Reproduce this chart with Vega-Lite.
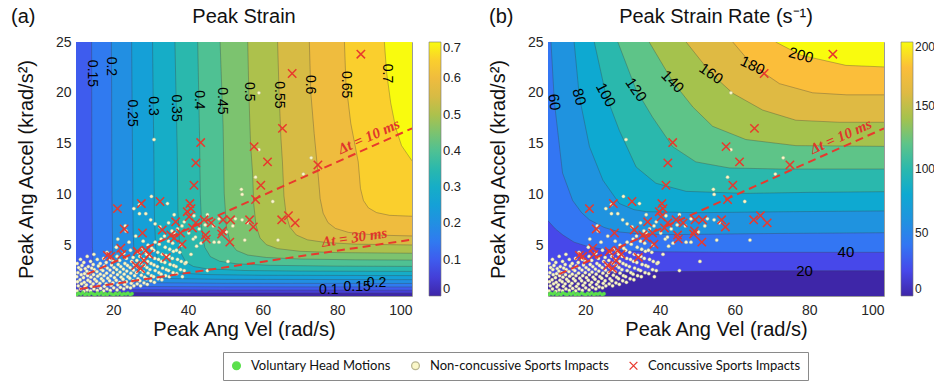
{
  "$schema": "https://vega.github.io/schema/vega-lite/v6.json",
  "padding": {"left": 10, "top": 6, "right": 0, "bottom": 0},
  "background": "white",
  "datasets": {
    "sa": [
      {"lev":0,"x":0,"y":-1},{"lev":0,"x":110,"y":-1},
      {"lev":0.05,"x":6.55,"y":30},{"lev":0.05,"x":6.6,"y":10.27},{"lev":0.05,"x":7,"y":2.27},{"lev":0.05,"x":8,"y":0.94},{"lev":0.05,"x":10,"y":0.56},{"lev":0.05,"x":13,"y":0.42},{"lev":0.05,"x":20,"y":0.34},{"lev":0.05,"x":40,"y":0.3},{"lev":0.05,"x":110,"y":0.28},
      {"lev":0.1,"x":8.82,"y":30},{"lev":0.1,"x":8.85,"y":24.6},{"lev":0.1,"x":9,"y":6.56},{"lev":0.1,"x":10,"y":1.56},{"lev":0.1,"x":11,"y":1.11},{"lev":0.1,"x":13,"y":0.85},{"lev":0.1,"x":16,"y":0.73},{"lev":0.1,"x":25,"y":0.63},{"lev":0.1,"x":50,"y":0.59},{"lev":0.1,"x":110,"y":0.57},
      {"lev":0.15,"x":14.15,"y":30},{"lev":0.15,"x":14.25,"y":12.9},{"lev":0.15,"x":14.3,"y":8.88},{"lev":0.15,"x":14.4,"y":4.88},{"lev":0.15,"x":14.6,"y":2.88},{"lev":0.15,"x":15,"y":1.88},{"lev":0.15,"x":16,"y":1.32},{"lev":0.15,"x":18,"y":1.09},{"lev":0.15,"x":22,"y":0.98},{"lev":0.15,"x":30,"y":0.93},{"lev":0.15,"x":50,"y":0.9},{"lev":0.15,"x":110,"y":0.89},
      {"lev":0.2,"x":19.4,"y":30},{"lev":0.2,"x":19.55,"y":20},{"lev":0.2,"x":19.6,"y":11.2},{"lev":0.2,"x":19.8,"y":4.55},{"lev":0.2,"x":20,"y":3.22},{"lev":0.2,"x":20.5,"y":2.22},{"lev":0.2,"x":21.5,"y":1.72},{"lev":0.2,"x":23,"y":1.51},{"lev":0.2,"x":26,"y":1.37},{"lev":0.2,"x":32,"y":1.3},{"lev":0.2,"x":50,"y":1.25},{"lev":0.2,"x":110,"y":1.23},
      {"lev":0.25,"x":24.8,"y":30},{"lev":0.25,"x":25.1,"y":15.6},{"lev":0.25,"x":25.3,"y":6.25},{"lev":0.25,"x":25.6,"y":3.91},{"lev":0.25,"x":26,"y":2.98},{"lev":0.25,"x":27,"y":2.28},{"lev":0.25,"x":28.5,"y":1.98},{"lev":0.25,"x":31,"y":1.81},{"lev":0.25,"x":36,"y":1.71},{"lev":0.25,"x":50,"y":1.64},{"lev":0.25,"x":110,"y":1.6},
      {"lev":0.3,"x":30.3,"y":30},{"lev":0.3,"x":30.5,"y":25},{"lev":0.3,"x":30.85,"y":14},{"lev":0.3,"x":31,"y":7.98},{"lev":0.3,"x":31.3,"y":4.98},{"lev":0.3,"x":31.7,"y":3.78},{"lev":0.3,"x":32.5,"y":2.98},{"lev":0.3,"x":34,"y":2.53},{"lev":0.3,"x":37,"y":2.27},{"lev":0.3,"x":45,"y":2.11},{"lev":0.3,"x":60,"y":2.04},{"lev":0.3,"x":110,"y":2.0},
      {"lev":0.35,"x":36.3,"y":30},{"lev":0.35,"x":36.5,"y":25},{"lev":0.35,"x":37.1,"y":14.4},{"lev":0.35,"x":37.3,"y":8.38},{"lev":0.35,"x":37.7,"y":5.38},{"lev":0.35,"x":38.3,"y":4.09},{"lev":0.35,"x":39.5,"y":3.3},{"lev":0.35,"x":41.5,"y":2.9},{"lev":0.35,"x":45,"y":2.68},{"lev":0.35,"x":55,"y":2.51},{"lev":0.35,"x":70,"y":2.45},{"lev":0.35,"x":110,"y":2.41},
      {"lev":0.4,"x":42.4,"y":30},{"lev":0.4,"x":42.6,"y":25},{"lev":0.4,"x":43.1,"y":15.65},{"lev":0.4,"x":43.3,"y":9.96},{"lev":0.4,"x":43.7,"y":6.61},{"lev":0.4,"x":44.5,"y":4.79},{"lev":0.4,"x":46,"y":3.87},{"lev":0.4,"x":48.5,"y":3.42},{"lev":0.4,"x":53,"y":3.17},{"lev":0.4,"x":62,"y":3.02},{"lev":0.4,"x":80,"y":2.94},{"lev":0.4,"x":110,"y":2.9},
      {"lev":0.45,"x":48.3,"y":30},{"lev":0.45,"x":48.6,"y":25},{"lev":0.45,"x":49.4,"y":16.8},{"lev":0.45,"x":49.7,"y":10.1},{"lev":0.45,"x":50.3,"y":6.78},{"lev":0.45,"x":51.3,"y":5.27},{"lev":0.45,"x":53,"y":4.48},{"lev":0.45,"x":56,"y":4.03},{"lev":0.45,"x":61,"y":3.79},{"lev":0.45,"x":70,"y":3.64},{"lev":0.45,"x":85,"y":3.56},{"lev":0.45,"x":110,"y":3.52},
      {"lev":0.5,"x":55.6,"y":30},{"lev":0.5,"x":56,"y":25},{"lev":0.5,"x":56.3,"y":20},{"lev":0.5,"x":56.75,"y":15},{"lev":0.5,"x":57.3,"y":12.1},{"lev":0.5,"x":57.6,"y":9.1},{"lev":0.5,"x":58.2,"y":6.96},{"lev":0.5,"x":59.3,"y":5.7},{"lev":0.5,"x":61,"y":5.05},{"lev":0.5,"x":64,"y":4.66},{"lev":0.5,"x":70,"y":4.4},{"lev":0.5,"x":80,"y":4.27},{"lev":0.5,"x":110,"y":4.18},
      {"lev":0.55,"x":63.4,"y":30},{"lev":0.55,"x":64,"y":25},{"lev":0.55,"x":64.4,"y":20},{"lev":0.55,"x":64.9,"y":15.5},{"lev":0.55,"x":65.3,"y":13.2},{"lev":0.55,"x":65.7,"y":9.85},{"lev":0.55,"x":66.3,"y":7.98},{"lev":0.55,"x":67.3,"y":6.77},{"lev":0.55,"x":69,"y":6.01},{"lev":0.55,"x":72,"y":5.53},{"lev":0.55,"x":77,"y":5.26},{"lev":0.55,"x":85,"y":5.1},{"lev":0.55,"x":110,"y":4.97},
      {"lev":0.6,"x":71.6,"y":30},{"lev":0.6,"x":72.5,"y":25},{"lev":0.6,"x":72.9,"y":20},{"lev":0.6,"x":73.8,"y":16},{"lev":0.6,"x":74.9,"y":11.76},{"lev":0.6,"x":75.4,"y":9.58},{"lev":0.6,"x":76.2,"y":8.15},{"lev":0.6,"x":77.5,"y":7.22},{"lev":0.6,"x":79.5,"y":6.65},{"lev":0.6,"x":83,"y":6.26},{"lev":0.6,"x":90,"y":6.0},{"lev":0.6,"x":110,"y":5.82},
      {"lev":0.65,"x":80.9,"y":30},{"lev":0.65,"x":81.9,"y":25},{"lev":0.65,"x":82.3,"y":21},{"lev":0.65,"x":83.6,"y":17},{"lev":0.65,"x":85.6,"y":13.2},{"lev":0.65,"x":86.2,"y":10.58},{"lev":0.65,"x":87,"y":9.4},{"lev":0.65,"x":88.3,"y":8.68},{"lev":0.65,"x":90.5,"y":8.21},{"lev":0.65,"x":94,"y":7.94},{"lev":0.65,"x":110,"y":7.7},
      {"lev":0.7,"x":91.5,"y":30},{"lev":0.7,"x":92.6,"y":25},{"lev":0.7,"x":93.2,"y":22},{"lev":0.7,"x":94.3,"y":19},{"lev":0.7,"x":95.6,"y":16.6},{"lev":0.7,"x":97.2,"y":14.8},{"lev":0.7,"x":100,"y":13.3},{"lev":0.7,"x":110,"y":12.0}
    ],
    "sb": [
      {"lev":0,"x":0,"y":-1},{"lev":0,"x":110,"y":-1},
      {"lev":20,"x":5,"y":1.85},{"lev":20,"x":10,"y":1.95},{"lev":20,"x":15,"y":2.12},{"lev":20,"x":25,"y":2.3},{"lev":20,"x":45,"y":2.42},{"lev":20,"x":70,"y":2.48},{"lev":20,"x":110,"y":2.5},
      {"lev":40,"x":8,"y":8.3},{"lev":40,"x":10,"y":7.4},{"lev":40,"x":12,"y":6.6},{"lev":40,"x":14,"y":6.0},{"lev":40,"x":17,"y":5.3},{"lev":40,"x":20,"y":4.95},{"lev":40,"x":24,"y":4.65},{"lev":40,"x":30,"y":4.45},{"lev":40,"x":40,"y":4.35},{"lev":40,"x":60,"y":4.3},{"lev":40,"x":110,"y":4.3},
      {"lev":60,"x":10.2,"y":30},{"lev":60,"x":10.8,"y":25},{"lev":60,"x":11.7,"y":19.1},{"lev":60,"x":13.9,"y":12.1},{"lev":60,"x":16.6,"y":9.4},{"lev":60,"x":19,"y":8.2},{"lev":60,"x":21.1,"y":7.5},{"lev":60,"x":25,"y":6.75},{"lev":60,"x":29.1,"y":6.3},{"lev":60,"x":35,"y":6.1},{"lev":60,"x":45,"y":6.05},{"lev":60,"x":70,"y":6.15},{"lev":60,"x":110,"y":6.25},
      {"lev":80,"x":16.3,"y":30},{"lev":80,"x":17,"y":25},{"lev":80,"x":18.4,"y":19.6},{"lev":80,"x":21.1,"y":14.7},{"lev":80,"x":24.7,"y":11.4},{"lev":80,"x":29.1,"y":9.1},{"lev":80,"x":33,"y":8.5},{"lev":80,"x":36.3,"y":8.3},{"lev":80,"x":50,"y":8.2},{"lev":80,"x":75,"y":8.3},{"lev":80,"x":110,"y":8.4},
      {"lev":100,"x":21.6,"y":30},{"lev":100,"x":22.4,"y":25},{"lev":100,"x":25.5,"y":19.8},{"lev":100,"x":29.1,"y":16.3},{"lev":100,"x":33.6,"y":12.7},{"lev":100,"x":38.9,"y":11.1},{"lev":100,"x":47,"y":10.3},{"lev":100,"x":63,"y":10.1},{"lev":100,"x":80,"y":10.2},{"lev":100,"x":110,"y":10.3},
      {"lev":120,"x":27.6,"y":30},{"lev":120,"x":28.7,"y":25},{"lev":120,"x":33.6,"y":20.3},{"lev":120,"x":38,"y":17.6},{"lev":120,"x":43.4,"y":14.7},{"lev":120,"x":49.6,"y":13.2},{"lev":120,"x":58.6,"y":12.6},{"lev":120,"x":72,"y":12.5},{"lev":120,"x":110,"y":12.5},
      {"lev":140,"x":35.8,"y":30},{"lev":140,"x":37.1,"y":25},{"lev":140,"x":43.4,"y":21.1},{"lev":140,"x":48.8,"y":18.6},{"lev":140,"x":54.1,"y":16.7},{"lev":140,"x":63,"y":15.4},{"lev":140,"x":76.4,"y":14.8},{"lev":140,"x":110,"y":14.7},
      {"lev":160,"x":45.5,"y":30},{"lev":160,"x":47,"y":25},{"lev":160,"x":53.7,"y":21.9},{"lev":160,"x":59.5,"y":19.95},{"lev":160,"x":67.5,"y":18.3},{"lev":160,"x":76.4,"y":17.3},{"lev":160,"x":88,"y":17.1},{"lev":160,"x":110,"y":17.1},
      {"lev":180,"x":57.5,"y":30},{"lev":180,"x":59.5,"y":25},{"lev":180,"x":64.8,"y":22.7},{"lev":180,"x":72,"y":20.9},{"lev":180,"x":80.9,"y":20.0},{"lev":180,"x":90,"y":19.8},{"lev":180,"x":110,"y":19.8},
      {"lev":200,"x":68,"y":30},{"lev":200,"x":71,"y":25},{"lev":200,"x":77.8,"y":23.7},{"lev":200,"x":89.8,"y":22.7},{"lev":200,"x":110,"y":22.4}
    ],
    "la": [
      {"lev":0.15,"x":14.2,"y":21.9},{"lev":0.2,"x":19.5,"y":22.6},{"lev":0.25,"x":25.05,"y":18.0},{"lev":0.3,"x":30.7,"y":18.7},{"lev":0.35,"x":36.87,"y":18.5},{"lev":0.4,"x":42.9,"y":19.3},{"lev":0.45,"x":49.17,"y":19.2},{"lev":0.5,"x":56.3,"y":20.1},{"lev":0.55,"x":64.4,"y":19.8},{"lev":0.6,"x":72.8,"y":20.8},{"lev":0.65,"x":82.35,"y":20.8},{"lev":0.7,"x":93.2,"y":21.9},
      {"lev":0.1,"x":77.7,"y":0.58},{"lev":0.15,"x":85.3,"y":0.9},{"lev":0.2,"x":90.5,"y":1.24}
    ],
    "lb": [
      {"lev":20,"x":78.7,"y":2.47},{"lev":40,"x":89.8,"y":4.3},{"lev":60,"x":11.7,"y":19.1},{"lev":80,"x":18.4,"y":19.6},{"lev":100,"x":25.5,"y":19.8},{"lev":120,"x":33.6,"y":20.3},{"lev":140,"x":43.4,"y":21.1},{"lev":160,"x":53.7,"y":21.9},{"lev":180,"x":64.8,"y":22.7},{"lev":200,"x":77.8,"y":23.7}
    ],
    "dtl": [
      {"dt":10,"x":13,"y":2.15},{"dt":10,"x":100,"y":16.5},
      {"dt":30,"x":11,"y":0.7},{"dt":30,"x":100,"y":5.55}
    ],
    "dtt": [
      {"dt":10,"t":"Δt = 10 ms","x":89.3,"y":15.0},
      {"dt":30,"t":"Δt = 30 ms","x":84.9,"y":5.0}
    ],
    "heads": [
      {"p":"a","t":"(a)","x":-7.4,"y":27.5,"h":"Peak Strain","hx":55},
      {"p":"b","t":"(b)","x":-5.8,"y":27.5,"h":"Peak Strain Rate (s⁻¹)","hx":55}
    ],
    "pts": [
      {"g":"N","x":10.3,"y":0.5},{"g":"N","x":10.6,"y":1.0},{"g":"N","x":10.4,"y":1.4},{"g":"N","x":10.2,"y":1.9},{"g":"N","x":10.5,"y":2.3},{"g":"N","x":10.7,"y":2.8},{"g":"N","x":10.3,"y":3.2},
      {"g":"N","x":11.2,"y":0.7},{"g":"N","x":11.5,"y":1.2},{"g":"N","x":11.1,"y":1.6},{"g":"N","x":11.4,"y":2.1},{"g":"N","x":11.3,"y":2.6},{"g":"N","x":11.6,"y":3.0},{"g":"N","x":11.2,"y":3.6},
      {"g":"N","x":12.1,"y":0.45},{"g":"N","x":12.4,"y":0.9},{"g":"N","x":12.2,"y":1.35},{"g":"N","x":12.0,"y":1.8},{"g":"N","x":12.3,"y":2.2},{"g":"N","x":12.5,"y":2.7},{"g":"N","x":12.1,"y":3.3},
      {"g":"N","x":13.0,"y":0.6},{"g":"N","x":12.8,"y":1.1},{"g":"N","x":13.2,"y":1.55},{"g":"N","x":13.1,"y":2.0},{"g":"N","x":12.9,"y":2.45},{"g":"N","x":13.3,"y":2.9},{"g":"N","x":13.0,"y":3.9},
      {"g":"N","x":13.9,"y":0.5},{"g":"N","x":14.1,"y":0.95},{"g":"N","x":13.8,"y":1.4},{"g":"N","x":14.0,"y":1.85},{"g":"N","x":13.7,"y":2.3},{"g":"N","x":14.2,"y":2.75},{"g":"N","x":13.9,"y":3.4},
      {"g":"N","x":14.8,"y":0.7},{"g":"N","x":14.6,"y":1.2},{"g":"N","x":15.0,"y":1.65},{"g":"N","x":14.7,"y":2.1},{"g":"N","x":14.9,"y":2.6},{"g":"N","x":14.6,"y":3.1},{"g":"N","x":14.8,"y":4.1},
      {"g":"N","x":15.7,"y":0.55},{"g":"N","x":15.9,"y":1.0},{"g":"N","x":15.5,"y":1.45},{"g":"N","x":15.8,"y":1.95},{"g":"N","x":15.6,"y":2.4},{"g":"N","x":16.0,"y":2.95},{"g":"N","x":15.7,"y":3.6},
      {"g":"N","x":16.6,"y":0.75},{"g":"N","x":16.4,"y":1.25},{"g":"N","x":16.8,"y":1.7},{"g":"N","x":16.5,"y":2.15},{"g":"N","x":16.7,"y":2.65},{"g":"N","x":16.5,"y":3.2},
      {"g":"N","x":17.4,"y":0.5},{"g":"N","x":17.6,"y":0.95},{"g":"N","x":17.3,"y":1.5},{"g":"N","x":17.5,"y":2.0},{"g":"N","x":17.2,"y":2.5},{"g":"N","x":17.6,"y":2.95},{"g":"N","x":17.4,"y":3.7},
      {"g":"N","x":18.3,"y":0.7},{"g":"N","x":18.1,"y":1.2},{"g":"N","x":18.5,"y":1.75},{"g":"N","x":18.2,"y":2.25},{"g":"N","x":18.4,"y":2.75},{"g":"N","x":18.1,"y":3.3},{"g":"N","x":18.3,"y":4.3},
      {"g":"N","x":19.2,"y":0.55},{"g":"N","x":19.4,"y":1.05},{"g":"N","x":19.0,"y":1.5},{"g":"N","x":19.3,"y":2.0},{"g":"N","x":19.1,"y":2.55},{"g":"N","x":19.5,"y":3.05},{"g":"N","x":19.2,"y":3.6},
      {"g":"N","x":20.1,"y":0.8},{"g":"N","x":19.9,"y":1.3},{"g":"N","x":20.3,"y":1.8},{"g":"N","x":20.0,"y":2.3},{"g":"N","x":20.2,"y":2.8},{"g":"N","x":20.0,"y":3.4},
      {"g":"N","x":21.0,"y":0.6},{"g":"N","x":21.2,"y":1.1},{"g":"N","x":20.8,"y":1.55},{"g":"N","x":21.1,"y":2.1},{"g":"N","x":20.9,"y":2.6},{"g":"N","x":21.3,"y":3.1},{"g":"N","x":21.0,"y":3.9},{"g":"N","x":20.8,"y":4.8},
      {"g":"N","x":21.9,"y":0.85},{"g":"N","x":21.7,"y":1.35},{"g":"N","x":22.1,"y":1.85},{"g":"N","x":21.8,"y":2.35},{"g":"N","x":22.0,"y":2.9},{"g":"N","x":21.7,"y":3.5},
      {"g":"N","x":22.8,"y":0.7},{"g":"N","x":23.0,"y":1.15},{"g":"N","x":22.6,"y":1.65},{"g":"N","x":22.9,"y":2.15},{"g":"N","x":22.7,"y":2.65},{"g":"N","x":23.1,"y":3.2},{"g":"N","x":22.8,"y":4.2},
      {"g":"N","x":23.7,"y":0.9},{"g":"N","x":23.5,"y":1.4},{"g":"N","x":23.9,"y":1.9},{"g":"N","x":23.6,"y":2.45},{"g":"N","x":23.8,"y":3.0},{"g":"N","x":23.5,"y":3.7},
      {"g":"N","x":24.6,"y":0.8},{"g":"N","x":24.8,"y":1.25},{"g":"N","x":24.4,"y":1.75},{"g":"N","x":24.7,"y":2.25},{"g":"N","x":24.5,"y":2.8},{"g":"N","x":24.9,"y":3.4},{"g":"N","x":24.6,"y":4.5},
      {"g":"N","x":25.5,"y":1.0},{"g":"N","x":25.3,"y":1.5},{"g":"N","x":25.7,"y":2.0},{"g":"N","x":25.4,"y":2.55},{"g":"N","x":25.6,"y":3.1},{"g":"N","x":25.3,"y":3.8},
      {"g":"N","x":26.4,"y":1.2},{"g":"N","x":26.6,"y":1.7},{"g":"N","x":26.2,"y":2.3},{"g":"N","x":26.5,"y":2.85},{"g":"N","x":26.3,"y":3.5},{"g":"N","x":26.7,"y":4.3},
      {"g":"N","x":27.3,"y":1.0},{"g":"N","x":27.1,"y":1.5},{"g":"N","x":27.5,"y":2.05},{"g":"N","x":27.2,"y":2.6},{"g":"N","x":27.4,"y":3.2},{"g":"N","x":27.1,"y":3.9},{"g":"N","x":27.5,"y":4.6},
      {"g":"N","x":28.2,"y":1.3},{"g":"N","x":28.4,"y":1.85},{"g":"N","x":28.0,"y":2.4},{"g":"N","x":28.3,"y":3.0},{"g":"N","x":28.1,"y":3.6},{"g":"N","x":28.5,"y":4.4},
      {"g":"N","x":29.1,"y":1.15},{"g":"N","x":28.9,"y":1.7},{"g":"N","x":29.3,"y":2.25},{"g":"N","x":29.0,"y":2.8},{"g":"N","x":29.2,"y":3.4},{"g":"N","x":28.9,"y":4.1},{"g":"N","x":29.3,"y":5.0},
      {"g":"N","x":30.0,"y":1.5},{"g":"N","x":30.2,"y":2.0},{"g":"N","x":29.8,"y":2.6},{"g":"N","x":30.1,"y":3.2},{"g":"N","x":29.9,"y":3.9},{"g":"N","x":30.3,"y":4.7},
      {"g":"N","x":31.0,"y":1.35},{"g":"N","x":30.8,"y":1.9},{"g":"N","x":31.2,"y":2.5},{"g":"N","x":30.9,"y":3.05},{"g":"N","x":31.1,"y":3.7},{"g":"N","x":30.8,"y":4.5},{"g":"N","x":31.2,"y":5.3},
      {"g":"N","x":32.0,"y":1.7},{"g":"N","x":32.2,"y":2.3},{"g":"N","x":31.8,"y":2.9},{"g":"N","x":32.1,"y":3.6},{"g":"N","x":31.9,"y":4.3},{"g":"N","x":32.3,"y":5.1},
      {"g":"N","x":33.0,"y":1.6},{"g":"N","x":32.8,"y":2.15},{"g":"N","x":33.2,"y":2.75},{"g":"N","x":32.9,"y":3.4},{"g":"N","x":33.1,"y":4.1},{"g":"N","x":32.8,"y":5.6},
      {"g":"N","x":34.0,"y":2.0},{"g":"N","x":34.2,"y":2.6},{"g":"N","x":33.8,"y":3.3},{"g":"N","x":34.1,"y":4.0},{"g":"N","x":33.9,"y":4.8},
      {"g":"N","x":35.0,"y":1.9},{"g":"N","x":34.8,"y":2.5},{"g":"N","x":35.2,"y":3.1},{"g":"N","x":34.9,"y":3.9},{"g":"N","x":35.1,"y":4.6},{"g":"N","x":34.8,"y":5.4},
      {"g":"N","x":36.0,"y":2.3},{"g":"N","x":36.2,"y":3.0},{"g":"N","x":35.8,"y":3.7},{"g":"N","x":36.1,"y":4.4},{"g":"N","x":35.9,"y":5.2},{"g":"N","x":36.3,"y":6.2},
      {"g":"N","x":37.0,"y":2.2},{"g":"N","x":36.8,"y":2.9},{"g":"N","x":37.2,"y":3.6},{"g":"N","x":36.9,"y":4.5},
      {"g":"N","x":38.0,"y":2.6},{"g":"N","x":38.2,"y":3.4},{"g":"N","x":37.8,"y":4.3},{"g":"N","x":38.1,"y":5.0},
      {"g":"N","x":39.0,"y":2.5},{"g":"N","x":39.2,"y":3.2},
      {"g":"N","x":21.2,"y":5.6},{"g":"N","x":23.2,"y":6.9},{"g":"N","x":23.4,"y":6.4},{"g":"N","x":27.0,"y":9.0},{"g":"N","x":25.5,"y":8.6},{"g":"N","x":28.7,"y":8.1},{"g":"N","x":27.0,"y":8.1},{"g":"N","x":30.2,"y":9.8},{"g":"N","x":34.5,"y":9.1},{"g":"N","x":31.2,"y":7.1},{"g":"N","x":36.3,"y":8.0},{"g":"N","x":30.0,"y":7.5},{"g":"N","x":32.5,"y":6.8},{"g":"N","x":34.8,"y":7.2},{"g":"N","x":38.4,"y":6.9},{"g":"N","x":40.2,"y":6.2},{"g":"N","x":41.4,"y":5.6},{"g":"N","x":42.3,"y":4.9},{"g":"N","x":40.8,"y":4.1},{"g":"N","x":39.5,"y":3.3},{"g":"N","x":38.5,"y":1.9},{"g":"N","x":45.2,"y":8.0},{"g":"N","x":48.3,"y":7.6},{"g":"N","x":54.5,"y":7.5},{"g":"N","x":55.9,"y":7.2},{"g":"N","x":52.7,"y":7.6},{"g":"N","x":47.0,"y":5.3},{"g":"N","x":48.3,"y":5.3},{"g":"N","x":55.2,"y":5.5},{"g":"N","x":64.1,"y":5.5},{"g":"N","x":50.7,"y":3.4},{"g":"N","x":45.2,"y":2.5},{"g":"N","x":59.0,"y":20.0},{"g":"N","x":30.9,"y":15.4},{"g":"N","x":59.0,"y":14.4},{"g":"N","x":73.0,"y":13.6},{"g":"N","x":70.9,"y":12.0},{"g":"N","x":58.1,"y":11.7},{"g":"N","x":54.3,"y":10.5},{"g":"N","x":54.5,"y":10.0},{"g":"N","x":62.7,"y":9.3},{"g":"N","x":43.0,"y":6.6},{"g":"N","x":44.6,"y":7.0},{"g":"N","x":46.8,"y":6.9},{"g":"N","x":50.3,"y":6.3},{"g":"N","x":52.0,"y":6.9},{"g":"N","x":42.0,"y":5.8},{"g":"N","x":43.5,"y":5.2},{"g":"N","x":37.2,"y":6.6},{"g":"N","x":39.0,"y":7.3},{"g":"N","x":41.6,"y":7.9},{"g":"N","x":35.7,"y":6.4},{"g":"N","x":33.7,"y":5.9},{"g":"N","x":26.0,"y":5.9},{"g":"N","x":24.2,"y":5.3},{"g":"N","x":28.0,"y":5.4},
      {"g":"V","x":10.2,"y":0.12},{"g":"V","x":10.7,"y":0.28},{"g":"V","x":11.3,"y":0.18},{"g":"V","x":11.8,"y":0.33},{"g":"V","x":12.4,"y":0.1},{"g":"V","x":12.9,"y":0.24},{"g":"V","x":13.5,"y":0.15},{"g":"V","x":14.0,"y":0.3},{"g":"V","x":14.6,"y":0.2},{"g":"V","x":15.1,"y":0.12},{"g":"V","x":15.7,"y":0.27},{"g":"V","x":16.2,"y":0.17},{"g":"V","x":16.8,"y":0.32},{"g":"V","x":17.3,"y":0.1},{"g":"V","x":17.9,"y":0.22},{"g":"V","x":18.4,"y":0.14},{"g":"V","x":19.0,"y":0.29},{"g":"V","x":19.5,"y":0.19},{"g":"V","x":20.1,"y":0.11},{"g":"V","x":20.6,"y":0.26},{"g":"V","x":21.2,"y":0.16},{"g":"V","x":21.7,"y":0.3},{"g":"V","x":22.3,"y":0.13},{"g":"V","x":22.8,"y":0.23},{"g":"V","x":23.4,"y":0.18},{"g":"V","x":23.9,"y":0.28},{"g":"V","x":24.5,"y":0.14},{"g":"V","x":25.0,"y":0.22},
      {"g":"C","x":86.3,"y":23.8},{"g":"C","x":67.9,"y":21.9},{"g":"C","x":65.3,"y":16.5},{"g":"C","x":43.4,"y":15.1},{"g":"C","x":57.7,"y":14.7},{"g":"C","x":61.3,"y":13.2},{"g":"C","x":42.1,"y":13.1},{"g":"C","x":74.8,"y":12.9},{"g":"C","x":41.6,"y":10.9},{"g":"C","x":59.5,"y":10.9},{"g":"C","x":58.1,"y":9.5},{"g":"C","x":21.1,"y":8.6},{"g":"C","x":27.5,"y":9.1},{"g":"C","x":32.5,"y":9.3},{"g":"C","x":40.5,"y":9.1},{"g":"C","x":39.8,"y":8.3},{"g":"C","x":40.3,"y":7.8},{"g":"C","x":40.8,"y":8.6},{"g":"C","x":44.3,"y":7.5},{"g":"C","x":46.2,"y":7.2},{"g":"C","x":49.4,"y":7.5},{"g":"C","x":51.4,"y":7.5},{"g":"C","x":56.5,"y":7.5},{"g":"C","x":57.5,"y":6.8},{"g":"C","x":65.1,"y":7.5},{"g":"C","x":66.9,"y":7.9},{"g":"C","x":68.7,"y":7.2},{"g":"C","x":22.9,"y":6.6},{"g":"C","x":27.8,"y":6.2},{"g":"C","x":33.1,"y":6.5},{"g":"C","x":36.7,"y":7.3},{"g":"C","x":35.4,"y":6.0},{"g":"C","x":36.3,"y":5.7},{"g":"C","x":38.0,"y":6.2},{"g":"C","x":41.2,"y":6.7},{"g":"C","x":42.1,"y":7.2},{"g":"C","x":44.7,"y":6.0},{"g":"C","x":44.9,"y":5.6},{"g":"C","x":49.2,"y":6.4},{"g":"C","x":49.0,"y":6.1},{"g":"C","x":51.2,"y":5.3},{"g":"C","x":38.4,"y":5.1},{"g":"C","x":18.4,"y":4.0},{"g":"C","x":19.3,"y":3.9},{"g":"C","x":22.0,"y":4.7},{"g":"C","x":22.3,"y":4.1},{"g":"C","x":26.4,"y":4.4},{"g":"C","x":28.7,"y":4.5},{"g":"C","x":29.6,"y":4.1},{"g":"C","x":28.2,"y":3.5},{"g":"C","x":26.0,"y":3.0},{"g":"C","x":27.3,"y":2.7},{"g":"C","x":34.2,"y":3.8}
    ]
  },
  "hconcat": [
    {
      "width": 336,
      "height": 254,
      "encoding": {
        "x": {"field": "x", "type": "quantitative", "scale": {"domain": [10, 100], "nice": false, "zero": false}, "axis": {"title": "Peak Ang Vel (rad/s)", "values": [20, 40, 60, 80, 100]}},
        "y": {"field": "y", "type": "quantitative", "scale": {"domain": [0, 25], "nice": false, "zero": false}, "axis": {"title": "Peak Ang Accel (krad/s²)", "values": [5, 10, 15, 20, 25]}}
      },
      "layer": [
        {
          "data": {"name": "sa"},
          "mark": {"type": "area", "clip": true, "interpolate": "linear", "opacity": 1},
          "encoding": {
            "y": {"field": "y", "type": "quantitative", "stack": null},
            "y2": {"datum": 25},
            "detail": {"field": "lev"},
            "color": {
              "field": "lev", "type": "quantitative",
              "scale": {"type": "linear", "interpolate": "rgb", "domain": [0, 0.07, 0.14, 0.21, 0.28, 0.35, 0.42, 0.49, 0.56, 0.63, 0.7], "range": ["#3e26a8", "#4748ea", "#3376f3", "#1f93df", "#0ea9d1", "#2ab8ad", "#5ec488", "#a5c24d", "#dfba43", "#fbbe3a", "#f9fb0e"]},
              "legend": {"title": null, "orient": "right", "offset": 17, "gradientLength": 254, "gradientThickness": 12, "values": [0, 0.1, 0.2, 0.3, 0.4, 0.5, 0.6, 0.7], "format": "~r", "labelFontSize": 13, "labelOffset": 2, "gradientStrokeColor": "#777", "gradientStrokeWidth": 0.6}
            }
          }
        },
        {
          "data": {"name": "sa"},
          "transform": [{"filter": "datum.lev > 0"}],
          "mark": {"type": "line", "clip": true, "stroke": "#3c3c3c", "strokeWidth": 0.6, "opacity": 0.55},
          "encoding": {"detail": {"field": "lev"}}
        },
        {
          "data": {"name": "pts"},
          "transform": [{"filter": "datum.g != 'C'"}],
          "mark": {"type": "point", "filled": true, "size": 11, "strokeWidth": 0.4, "opacity": 1, "clip": true},
          "encoding": {
            "shape": {"field": "g", "type": "nominal", "scale": {"domain": ["V", "N", "C"], "range": ["circle", "circle", "M-1,-1L1,1M1,-1L-1,1"]}, "legend": {"title": null, "orient": "none", "legendX": 147, "legendY": 310, "direction": "horizontal", "labelExpr": "datum.label == 'V' ? 'Voluntary Head Motions' : datum.label == 'N' ? 'Non-concussive Sports Impacts' : 'Concussive Sports Impacts'", "labelFont": "Lato", "labelFontSize": 13, "labelLimit": 400, "labelColor": "#111", "symbolSize": 60, "symbolStrokeWidth": 1.3, "symbolOpacity": 1, "columnPadding": 18, "labelOffset": 8, "padding": 7, "strokeColor": "#8a8a8a", "fillColor": "#ffffff", "cornerRadius": 0}},
            "fill": {"field": "g", "type": "nominal", "scale": {"domain": ["V", "N", "C"], "range": ["#5be04c", "#fbf8c9", "#e8392d"]}},
            "stroke": {"field": "g", "type": "nominal", "scale": {"domain": ["V", "N", "C"], "range": ["#5be04c", "#b9b690", "#e8392d"]}}
          }
        },
        {
          "data": {"name": "pts"},
          "transform": [{"filter": "datum.g == 'C'"}],
          "mark": {"type": "point", "filled": true, "size": 70, "strokeWidth": 1.5, "opacity": 1, "clip": true},
          "encoding": {
            "shape": {"field": "g", "type": "nominal"},
            "fill": {"field": "g", "type": "nominal"},
            "stroke": {"field": "g", "type": "nominal"}
          }
        },
        {
          "data": {"name": "dtl"},
          "mark": {"type": "line", "clip": true, "stroke": "#e8392d", "strokeWidth": 2, "strokeDash": [8, 5]},
          "encoding": {"detail": {"field": "dt"}}
        },
        {
          "data": {"name": "dtt"},
          "transform": [{"filter": "datum.dt == 10"}],
          "mark": {"type": "text", "angle": 336, "align": "center", "baseline": "bottom", "font": "Liberation Serif", "fontStyle": "italic", "fontWeight": "bold", "fontSize": 15, "fill": "#e0352b"},
          "encoding": {"text": {"field": "t"}}
        },
        {
          "data": {"name": "dtt"},
          "transform": [{"filter": "datum.dt == 30"}],
          "mark": {"type": "text", "angle": 351.5, "align": "center", "baseline": "bottom", "font": "Liberation Serif", "fontStyle": "italic", "fontWeight": "bold", "fontSize": 15, "fill": "#e0352b"},
          "encoding": {"text": {"field": "t"}}
        },
        {
          "data": {"name": "la"},
          "transform": [{"filter": "datum.y > 5"}],
          "mark": {"type": "text", "angle": 90, "align": "center", "baseline": "middle", "fontSize": 14, "fill": "#000"},
          "encoding": {"text": {"field": "lev", "type": "quantitative"}}
        },
        {
          "data": {"name": "la"},
          "transform": [{"filter": "datum.y <= 5"}],
          "mark": {"type": "text", "align": "center", "baseline": "middle", "fontSize": 14, "fill": "#000"},
          "encoding": {"text": {"field": "lev", "type": "quantitative"}}
        },
        {
          "data": {"name": "heads"},
          "transform": [{"filter": "datum.p == 'a'"}],
          "mark": {"type": "text", "align": "left", "baseline": "middle", "fontSize": 20, "fill": "#111"},
          "encoding": {"text": {"field": "t"}}
        },
        {
          "data": {"name": "heads"},
          "transform": [{"filter": "datum.p == 'a'"}],
          "mark": {"type": "text", "align": "center", "baseline": "middle", "fontSize": 20, "fill": "#111"},
          "encoding": {"x": {"field": "hx", "type": "quantitative"}, "text": {"field": "h"}}
        }
      ]
    },
    {
      "width": 336,
      "height": 254,
      "encoding": {
        "x": {"field": "x", "type": "quantitative", "scale": {"domain": [10, 100], "nice": false, "zero": false}, "axis": {"title": "Peak Ang Vel (rad/s)", "values": [20, 40, 60, 80, 100]}},
        "y": {"field": "y", "type": "quantitative", "scale": {"domain": [0, 25], "nice": false, "zero": false}, "axis": {"title": "Peak Ang Accel (krad/s²)", "values": [5, 10, 15, 20, 25]}}
      },
      "layer": [
        {
          "data": {"name": "sb"},
          "mark": {"type": "area", "clip": true, "interpolate": "linear", "opacity": 1},
          "encoding": {
            "y": {"field": "y", "type": "quantitative", "stack": null},
            "y2": {"datum": 25},
            "detail": {"field": "lev"},
            "color": {
              "field": "lev", "type": "quantitative",
              "scale": {"type": "linear", "interpolate": "rgb", "domain": [0, 20, 40, 60, 80, 100, 120, 140, 160, 180, 200], "range": ["#3e26a8", "#4748ea", "#3376f3", "#1f93df", "#0ea9d1", "#2ab8ad", "#5ec488", "#a5c24d", "#dfba43", "#fbbe3a", "#f9fb0e"]},
              "legend": {"title": null, "orient": "right", "offset": 17, "gradientLength": 254, "gradientThickness": 12, "values": [0, 50, 100, 150, 200], "format": "d", "labelFontSize": 12, "labelOffset": 2, "gradientStrokeColor": "#777", "gradientStrokeWidth": 0.6}
            }
          }
        },
        {
          "data": {"name": "sb"},
          "transform": [{"filter": "datum.lev > 0"}],
          "mark": {"type": "line", "clip": true, "stroke": "#3c3c3c", "strokeWidth": 0.6, "opacity": 0.55},
          "encoding": {"detail": {"field": "lev"}}
        },
        {
          "data": {"name": "pts"},
          "transform": [{"filter": "datum.g != 'C'"}],
          "mark": {"type": "point", "filled": true, "size": 11, "strokeWidth": 0.4, "opacity": 1, "clip": true},
          "encoding": {
            "shape": {"field": "g", "type": "nominal"},
            "fill": {"field": "g", "type": "nominal"},
            "stroke": {"field": "g", "type": "nominal"}
          }
        },
        {
          "data": {"name": "pts"},
          "transform": [{"filter": "datum.g == 'C'"}],
          "mark": {"type": "point", "filled": true, "size": 70, "strokeWidth": 1.5, "opacity": 1, "clip": true},
          "encoding": {
            "shape": {"field": "g", "type": "nominal"},
            "fill": {"field": "g", "type": "nominal"},
            "stroke": {"field": "g", "type": "nominal"}
          }
        },
        {
          "data": {"name": "dtl"},
          "transform": [{"filter": "datum.dt == 10"}],
          "mark": {"type": "line", "clip": true, "stroke": "#e8392d", "strokeWidth": 2, "strokeDash": [8, 5]},
          "encoding": {"detail": {"field": "dt"}}
        },
        {
          "data": {"name": "dtt"},
          "transform": [{"filter": "datum.dt == 10"}],
          "mark": {"type": "text", "angle": 336, "align": "center", "baseline": "bottom", "font": "Liberation Serif", "fontStyle": "italic", "fontWeight": "bold", "fontSize": 15, "fill": "#e0352b"},
          "encoding": {"text": {"field": "t"}}
        },
        {
          "data": {"name": "lb"},
          "mark": {"type": "text", "align": "center", "baseline": "middle", "fontSize": 15, "fill": "#000"},
          "encoding": {
            "text": {"field": "lev", "type": "quantitative"},
            "angle": {"field": "lev", "type": "quantitative", "scale": {"domain": [20, 40, 60, 80, 100, 120, 140, 160, 180, 200], "range": [0, 0, 82, 75, 62, 55, 45, 35, 25, 15]}, "legend": null}
          }
        },
        {
          "data": {"name": "heads"},
          "transform": [{"filter": "datum.p == 'b'"}],
          "mark": {"type": "text", "align": "left", "baseline": "middle", "fontSize": 20, "fill": "#111"},
          "encoding": {"text": {"field": "t"}}
        },
        {
          "data": {"name": "heads"},
          "transform": [{"filter": "datum.p == 'b'"}],
          "mark": {"type": "text", "align": "center", "baseline": "middle", "fontSize": 20, "fill": "#111"},
          "encoding": {"x": {"field": "hx", "type": "quantitative"}, "text": {"field": "h"}}
        }
      ]
    }
  ],
  "spacing": 24,
  "resolve": {"scale": {"color": "independent", "angle": "independent"}},
  "config": {
    "font": "Liberation Sans",
    "view": {"stroke": "#9a9a9a", "strokeWidth": 1},
    "axis": {"domain": false, "grid": false, "ticks": false, "labelFont": "Liberation Sans", "labelFontSize": 14, "labelColor": "#262626", "labelPadding": 5, "titleFont": "Liberation Sans", "titleFontSize": 20, "titleFontWeight": "normal", "titleColor": "#111"},
    "axisX": {"labelPadding": 7, "titlePadding": 2},
    "axisY": {"titlePadding": 19},
    "legend": {"labelFont": "Liberation Sans", "labelColor": "#222"}
  }
}
